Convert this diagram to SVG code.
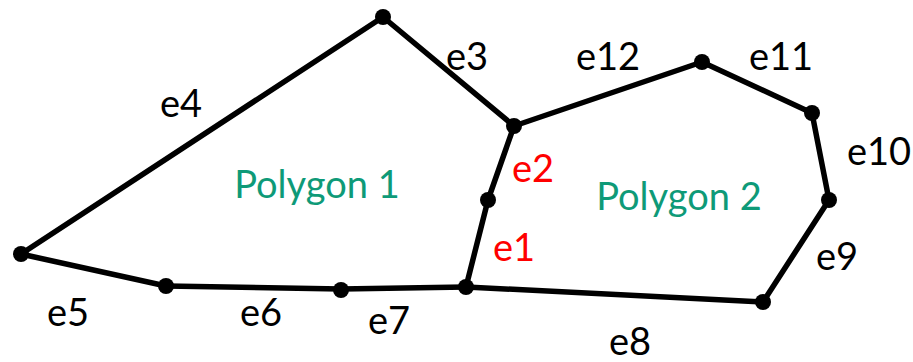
<svg xmlns="http://www.w3.org/2000/svg" width="913" height="362" viewBox="0 0 913 362">
<style>
.edge{stroke:#000;stroke-width:5.5;stroke-linecap:round;fill:none}
.dot{fill:#000}
.lbl{font-family:Lato,"Liberation Sans",sans-serif;font-size:38px;fill:#000;text-anchor:middle}
.red{fill:#ff0000}
.poly{fill:#0e9a78}
</style>
<rect width="913" height="362" fill="#fff"/>
<g id="connectors">
<line id="e4" class="edge" x1="21" y1="254" x2="383" y2="17"/>
<line id="e3" class="edge" x1="383" y1="17" x2="514" y2="126"/>
<line id="e2" class="edge" x1="514" y1="126" x2="488" y2="200"/>
<line id="e1" class="edge" x1="488" y1="200" x2="466" y2="287"/>
<line id="e7" class="edge" x1="466" y1="287" x2="341" y2="289"/>
<line id="e6" class="edge" x1="341" y1="289" x2="166" y2="286"/>
<line id="e5" class="edge" x1="166" y1="286" x2="21" y2="254"/>
<line id="e12" class="edge" x1="514" y1="126" x2="702" y2="62"/>
<line id="e11" class="edge" x1="702" y1="62" x2="812" y2="113"/>
<line id="e10" class="edge" x1="812" y1="113" x2="829" y2="200"/>
<line id="e9" class="edge" x1="829" y1="200" x2="763" y2="302"/>
<line id="e8" class="edge" x1="763" y1="302" x2="466" y2="287"/>
</g>
<g id="vA"><circle class="dot" cx="383" cy="17" r="8"/></g>
<g id="vB"><circle class="dot" cx="514" cy="126" r="8"/></g>
<g id="vC"><circle class="dot" cx="488" cy="200" r="8"/></g>
<g id="vD"><circle class="dot" cx="466" cy="287" r="8"/></g>
<g id="vE"><circle class="dot" cx="341" cy="290" r="8"/></g>
<g id="vF"><circle class="dot" cx="166" cy="286" r="8"/></g>
<g id="vG"><circle class="dot" cx="21" cy="254" r="8"/></g>
<g id="vH"><circle class="dot" cx="702" cy="62" r="8"/></g>
<g id="vI"><circle class="dot" cx="812" cy="113" r="8"/></g>
<g id="vJ"><circle class="dot" cx="829" cy="200" r="8"/></g>
<g id="vK"><circle class="dot" cx="763" cy="302" r="8"/></g>
<g id="labels">
<text class="lbl" x="181" y="117">e4</text>
<text class="lbl" x="467" y="70">e3</text>
<text class="lbl red" x="533" y="182">e2</text>
<text class="lbl red" x="514" y="261">e1</text>
<text class="lbl" x="68" y="326">e5</text>
<text class="lbl" x="261" y="326">e6</text>
<text class="lbl" x="389" y="334">e7</text>
<text class="lbl" x="630" y="355">e8</text>
<text class="lbl" x="837" y="270">e9</text>
<text class="lbl" x="879" y="165">e10</text>
<text class="lbl" x="781" y="70">e11</text>
<text class="lbl" x="608" y="70">e12</text>
</g>
<g id="polygon1"><text class="lbl poly" x="317" y="198">Polygon 1</text></g>
<g id="polygon2"><text class="lbl poly" x="679" y="210">Polygon 2</text></g>
</svg>
